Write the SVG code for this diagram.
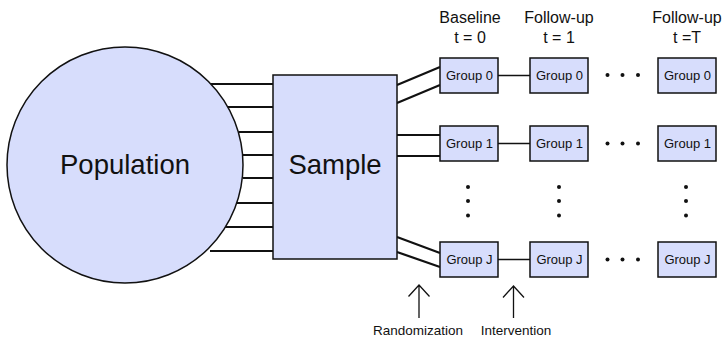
<svg xmlns="http://www.w3.org/2000/svg" width="726" height="339" viewBox="0 0 726 339">
<style>
.shape{fill:#d7ddfc;stroke:#111;stroke-width:1.5}
.box{fill:#d7ddfc;stroke:#111;stroke-width:1.5}
.thick{stroke:#111;stroke-width:2.2;fill:none}
.thin{stroke:#111;stroke-width:1.3;fill:none}
.arrow{stroke:#111;stroke-width:1.3;fill:none}
text{font-family:"Liberation Sans",Arial,sans-serif;fill:#111;text-anchor:middle}
.big{font-size:27.5px}
.hdr{font-size:16px}
.grp{font-size:13px}
.lbl{font-size:13.5px}
.dot{fill:#111}
</style>
<rect width="726" height="339" fill="#fff"/>
<g id="connectors">
<path class="thick" d="M211 84H273M228 107H273M239 132H273M243 155H273M243 178H273M237 203H273M225 227H273M210 251H273"/>
<path class="thick" d="M397 85L440 67M397 103L440 85M397 135H440M397 156H440M397 237L440 253M397 252L440 267"/>
<path class="thin" d="M498 75.5H530M498 143.5H530M498 259.5H530"/>
</g>
<g id="population"><circle class="shape" cx="125" cy="165" r="118"/><text class="big" x="125" y="173.5">Population</text></g>
<g id="sample"><rect class="shape" x="273" y="75" width="124" height="184"/><text class="big" x="335" y="173.5">Sample</text></g>
<g id="hdr-baseline"><text class="hdr" x="470" y="23">Baseline</text><text class="hdr" x="470" y="43">t = 0</text></g>
<g id="hdr-follow1"><text class="hdr" x="559" y="23">Follow-up</text><text class="hdr" x="559" y="43">t = 1</text></g>
<g id="hdr-followT"><text class="hdr" x="687" y="23">Follow-up</text><text class="hdr" x="687" y="43">t =T</text></g>
<g id="g0-0"><rect class="box" x="440" y="58" width="58" height="35"/><text class="grp" x="469.5" y="80">Group 0</text></g>
<g id="g0-1"><rect class="box" x="530" y="58" width="58" height="35"/><text class="grp" x="559.5" y="80">Group 0</text></g>
<g id="g0-T"><rect class="box" x="658" y="58" width="58" height="35"/><text class="grp" x="687.5" y="80">Group 0</text></g>
<g id="g1-0"><rect class="box" x="440" y="126" width="58" height="35"/><text class="grp" x="469.5" y="148">Group 1</text></g>
<g id="g1-1"><rect class="box" x="530" y="126" width="58" height="35"/><text class="grp" x="559.5" y="148">Group 1</text></g>
<g id="g1-T"><rect class="box" x="658" y="126" width="58" height="35"/><text class="grp" x="687.5" y="148">Group 1</text></g>
<g id="gJ-0"><rect class="box" x="440" y="242" width="58" height="35"/><text class="grp" x="469.5" y="264">Group J</text></g>
<g id="gJ-1"><rect class="box" x="530" y="242" width="58" height="35"/><text class="grp" x="559.5" y="264">Group J</text></g>
<g id="gJ-T"><rect class="box" x="658" y="242" width="58" height="35"/><text class="grp" x="687.5" y="264">Group J</text></g>
<g id="ellipses">
<circle class="dot" cx="607.5" cy="75" r="2"/><circle class="dot" cx="622.5" cy="75" r="2"/><circle class="dot" cx="638" cy="75" r="2"/>
<circle class="dot" cx="607.5" cy="143.5" r="2"/><circle class="dot" cx="622.5" cy="143.5" r="2"/><circle class="dot" cx="638" cy="143.5" r="2"/>
<circle class="dot" cx="607.5" cy="259.5" r="2"/><circle class="dot" cx="622.5" cy="259.5" r="2"/><circle class="dot" cx="638" cy="259.5" r="2"/>
<circle class="dot" cx="468" cy="187" r="2"/><circle class="dot" cx="468" cy="201" r="2"/><circle class="dot" cx="468" cy="215.5" r="2"/>
<circle class="dot" cx="559" cy="187" r="2"/><circle class="dot" cx="559" cy="201" r="2"/><circle class="dot" cx="559" cy="215.5" r="2"/>
<circle class="dot" cx="686" cy="187" r="2"/><circle class="dot" cx="686" cy="201" r="2"/><circle class="dot" cx="686" cy="215.5" r="2"/>
</g>
<g id="randomization"><path class="arrow" d="M419 318V285M408.5 296.5L419 285L429.5 296.5"/><text class="lbl" x="418" y="335">Randomization</text></g>
<g id="intervention"><path class="arrow" d="M513.5 318V286M503 297.5L513.5 286L524 297.5"/><text class="lbl" x="516" y="335">Intervention</text></g>
</svg>
